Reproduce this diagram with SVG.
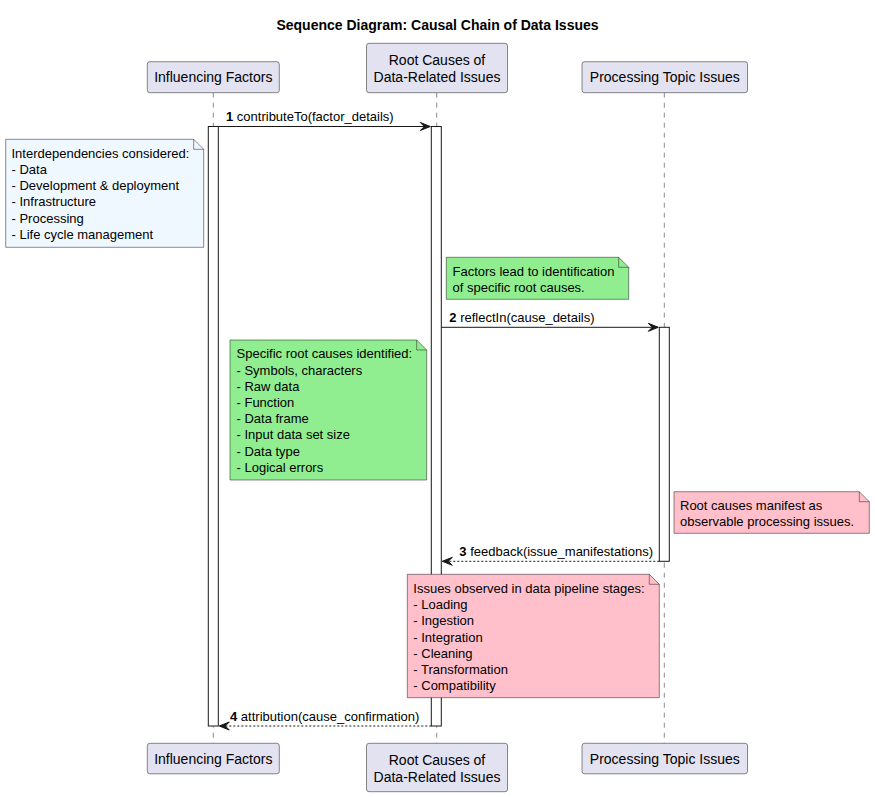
<svg xmlns="http://www.w3.org/2000/svg" width="875" height="797" viewBox="0 0 875 797">
<style>
text{font-family:"Liberation Sans",Arial,sans-serif;fill:#000000}
.title{font-size:14px;font-weight:bold}
.pbox{fill:#E2E2F0;stroke:#181818;stroke-width:0.5}
.ptxt{font-size:14px;text-anchor:middle}
.life{stroke:#181818;stroke-width:0.5;stroke-dasharray:5,5;fill:none}
.act{fill:#FFFFFF;stroke:#181818;stroke-width:1}
.msg{stroke:#181818;stroke-width:1;fill:none}
.ret{stroke:#181818;stroke-width:1;fill:none;stroke-dasharray:2,2}
.head{fill:#181818;stroke:#181818;stroke-width:1}
.mtxt{font-size:13px}
.num{font-weight:bold}
.note{stroke:#181818;stroke-width:0.5}
.fold{fill:none;stroke:#181818;stroke-width:0.5}
.ntxt{font-size:13px}
.blue{fill:#F0F8FF}
.green{fill:#90EE90}
.pink{fill:#FFC0CB}
</style>
<rect x="0" y="0" width="875" height="797" fill="#FFFFFF"/>
<text class="title" x="437.5" y="29.5" text-anchor="middle">Sequence Diagram: Causal Chain of Data Issues</text>

<g id="lifelines">
<line class="life" x1="213.3" y1="92.7" x2="213.3" y2="743.3"/>
<line class="life" x1="436.7" y1="92.7" x2="436.7" y2="743.3"/>
<line class="life" x1="664.3" y1="92.7" x2="664.3" y2="743.3"/>
</g>

<g id="activations">
<rect class="act" x="208.3" y="126.5" width="10" height="599.5"/>
<rect class="act" x="431.3" y="126.5" width="10" height="599.5"/>
<rect class="act" x="659.3" y="327.3" width="10" height="234"/>
</g>

<g id="participant-influencing-top">
<rect class="pbox" x="147.3" y="61.7" width="132" height="31" rx="2.5"/>
<text class="ptxt" x="213.3" y="82.3">Influencing Factors</text>
</g>
<g id="participant-rootcauses-top">
<rect class="pbox" x="366.5" y="43.3" width="141" height="49.4" rx="2.5"/>
<text class="ptxt" x="437" y="65.3">Root Causes of</text>
<text class="ptxt" x="437" y="82.3">Data-Related Issues</text>
</g>
<g id="participant-processing-top">
<rect class="pbox" x="582" y="61.7" width="165.5" height="31" rx="2.5"/>
<text class="ptxt" x="664.8" y="82.3">Processing Topic Issues</text>
</g>

<g id="participant-influencing-bottom">
<rect class="pbox" x="147.3" y="743.3" width="132" height="30.5" rx="2.5"/>
<text class="ptxt" x="213.3" y="764">Influencing Factors</text>
</g>
<g id="participant-rootcauses-bottom">
<rect class="pbox" x="366.5" y="743.3" width="141" height="48.4" rx="2.5"/>
<text class="ptxt" x="437" y="765">Root Causes of</text>
<text class="ptxt" x="437" y="781.8">Data-Related Issues</text>
</g>
<g id="participant-processing-bottom">
<rect class="pbox" x="582" y="743.3" width="165.5" height="30.5" rx="2.5"/>
<text class="ptxt" x="664.8" y="764">Processing Topic Issues</text>
</g>

<g id="connectors">
<line class="msg" x1="218.3" y1="126.5" x2="430" y2="126.5"/>
<polygon class="head" points="420.3,122.5 430.3,126.5 420.3,130.5 424.3,126.5"/>
<text class="mtxt" x="226" y="121"><tspan class="num">1</tspan> contributeTo(factor_details)</text>

<line class="msg" x1="441.3" y1="327.3" x2="658" y2="327.3"/>
<polygon class="head" points="648.3,323.3 658.3,327.3 648.3,331.3 652.3,327.3"/>
<text class="mtxt" x="449.3" y="322"><tspan class="num">2</tspan> reflectIn(cause_details)</text>

<line class="ret" x1="659.3" y1="561.3" x2="442.5" y2="561.3"/>
<polygon class="head" points="452.3,557.3 442.3,561.3 452.3,565.3 448.3,561.3"/>
<text class="mtxt" x="459.3" y="556"><tspan class="num">3</tspan> feedback(issue_manifestations)</text>

<line class="ret" x1="431.3" y1="726" x2="219.5" y2="726"/>
<polygon class="head" points="229.3,722 219.3,726 229.3,730 225.3,726"/>
<text class="mtxt" x="230" y="720.7"><tspan class="num">4</tspan> attribution(cause_confirmation)</text>
</g>

<g id="note-interdependencies">
<path class="note blue" d="M5.7,139.3 L5.7,247.3 L203.7,247.3 L203.7,149.3 L193.7,139.3 Z"/>
<path class="fold" d="M193.7,139.3 L193.7,149.3 L203.7,149.3"/>
<text class="ntxt" x="11.5" y="157.7">Interdependencies considered:</text>
<text class="ntxt" x="11.5" y="173.9">- Data</text>
<text class="ntxt" x="11.5" y="190.1">- Development &amp; deployment</text>
<text class="ntxt" x="11.5" y="206.3">- Infrastructure</text>
<text class="ntxt" x="11.5" y="222.5">- Processing</text>
<text class="ntxt" x="11.5" y="238.7">- Life cycle management</text>
</g>

<g id="note-factors-lead">
<path class="note green" d="M446.3,257.3 L446.3,299.3 L628.7,299.3 L628.7,267.3 L618.7,257.3 Z"/>
<path class="fold" d="M618.7,257.3 L618.7,267.3 L628.7,267.3"/>
<text class="ntxt" x="452.5" y="275.7">Factors lead to identification</text>
<text class="ntxt" x="452.5" y="291.9">of specific root causes.</text>
</g>

<g id="note-specific-root-causes">
<path class="note green" d="M230,340 L230,480 L426.7,480 L426.7,350 L416.7,340 Z"/>
<path class="fold" d="M416.7,340 L416.7,350 L426.7,350"/>
<text class="ntxt" x="236.5" y="358.4">Specific root causes identified:</text>
<text class="ntxt" x="236.5" y="374.6">- Symbols, characters</text>
<text class="ntxt" x="236.5" y="390.8">- Raw data</text>
<text class="ntxt" x="236.5" y="407">- Function</text>
<text class="ntxt" x="236.5" y="423.2">- Data frame</text>
<text class="ntxt" x="236.5" y="439.4">- Input data set size</text>
<text class="ntxt" x="236.5" y="455.6">- Data type</text>
<text class="ntxt" x="236.5" y="471.8">- Logical errors</text>
</g>

<g id="note-manifest">
<path class="note pink" d="M674,491.7 L674,533.3 L869.3,533.3 L869.3,501.7 L859.3,491.7 Z"/>
<path class="fold" d="M859.3,491.7 L859.3,501.7 L869.3,501.7"/>
<text class="ntxt" x="680" y="510">Root causes manifest as</text>
<text class="ntxt" x="680" y="526.2">observable processing issues.</text>
</g>

<g id="note-pipeline-stages">
<path class="note pink" d="M407.3,574.3 L407.3,697.7 L659.3,697.7 L659.3,584.3 L649.3,574.3 Z"/>
<path class="fold" d="M649.3,574.3 L649.3,584.3 L659.3,584.3"/>
<text class="ntxt" x="413.3" y="593">Issues observed in data pipeline stages:</text>
<text class="ntxt" x="413.3" y="609.2">- Loading</text>
<text class="ntxt" x="413.3" y="625.4">- Ingestion</text>
<text class="ntxt" x="413.3" y="641.6">- Integration</text>
<text class="ntxt" x="413.3" y="657.8">- Cleaning</text>
<text class="ntxt" x="413.3" y="674">- Transformation</text>
<text class="ntxt" x="413.3" y="690.2">- Compatibility</text>
</g>
</svg>
